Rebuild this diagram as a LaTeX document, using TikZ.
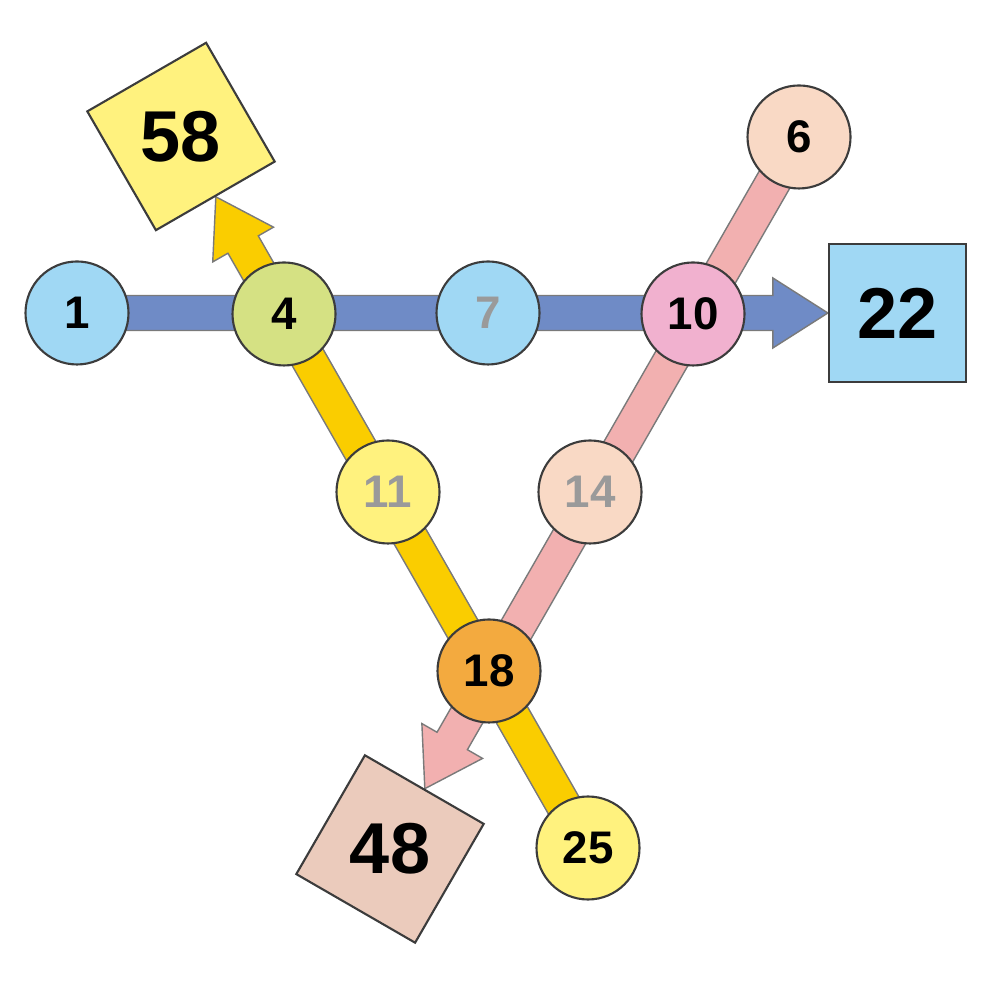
\documentclass[tikz,border=0pt]{standalone}
\usepackage{fontspec}
\setmainfont{Liberation Sans}
\usetikzlibrary{calc,shapes.geometric,backgrounds}
\definecolor{ballblue}{HTML}{A0D8F4}
\definecolor{ballgreen}{HTML}{D5E183}
\definecolor{ballpink}{HTML}{F1B1CF}
\definecolor{ballpeach}{HTML}{F9D9C5}
\definecolor{ballyellow}{HTML}{FFF27E}
\definecolor{ballorange}{HTML}{F3AA3F}
\definecolor{boxtan}{HTML}{EBCBBC}
\definecolor{arrowblue}{HTML}{6F8BC6}
\definecolor{arrowyellow}{HTML}{FACD00}
\definecolor{arrowpink}{HTML}{F2B0B0}
\definecolor{edgegrey}{HTML}{3C3C3C}
\definecolor{arrowgrey}{HTML}{7A7A7A}
\definecolor{fadegrey}{HTML}{9A9A9A}
\newcommand{\fatarrow}[3]{%
\coordinate (fab) at ($(#2)!0.55cm!(#1)$);
\filldraw[arrowedge,fill=#3] ($(#1)!0.175cm!90:(#2)$) -- ($(fab)!0.175cm!90:(#2)$) -- ($(fab)!0.35cm!90:(#2)$) -- (#2) -- ($(fab)!0.35cm!-90:(#2)$) -- ($(fab)!0.175cm!-90:(#2)$) -- ($(#1)!0.175cm!-90:(#2)$) -- cycle;
}
\begin{document}
\begin{tikzpicture}[ball/.style={circle,draw=edgegrey,line width=0.6pt,minimum size=1.03cm,inner sep=0pt,font=\fontsize{13}{15}\selectfont\bfseries},
box/.style={regular polygon,regular polygon sides=4,draw=edgegrey,line width=0.6pt,minimum size=1.94cm,inner sep=0pt,font=\fontsize{20.5}{23}\selectfont\bfseries},
faded/.style={text=fadegrey},
arrowedge/.style={draw=arrowgrey,line width=0.4pt}]
\useasboundingbox (0,0) rectangle (10,10);

\node[ball,fill=ballblue] (c1) at (0.77,6.87) {1};
\node[ball,fill=ballgreen] (c4) at (2.84,6.86) {4};
\node[ball,fill=ballblue,faded] (c7) at (4.88,6.87) {7};
\node[ball,fill=ballpink] (c10) at (6.93,6.86) {10};
\node[ball,fill=ballpeach] (c6) at (7.99,8.63) {6};
\node[ball,fill=ballyellow,faded] (c11) at (3.88,5.08) {11};
\node[ball,fill=ballpeach,faded] (c14) at (5.90,5.08) {14};
\node[ball,fill=ballorange] (c18) at (4.89,3.29) {18};
\node[ball,fill=ballyellow] (c25) at (5.88,1.52) {25};
\node[box,fill=ballyellow,shape border rotate=30] (b58) at (1.81,8.635) {58};
\node[box,fill=ballblue] (b22) at (8.975,6.87) {22};
\node[box,fill=boxtan,shape border rotate=-30] (b48) at (3.90,1.51) {48};

\begin{pgfonlayer}{background}
\fatarrow{c1.center}{b22.west}{arrowblue}
\fatarrow{c25.center}{b58.-60}{arrowyellow}
\fatarrow{c6.center}{b48.60}{arrowpink}
\end{pgfonlayer}
\end{tikzpicture}
\end{document}
